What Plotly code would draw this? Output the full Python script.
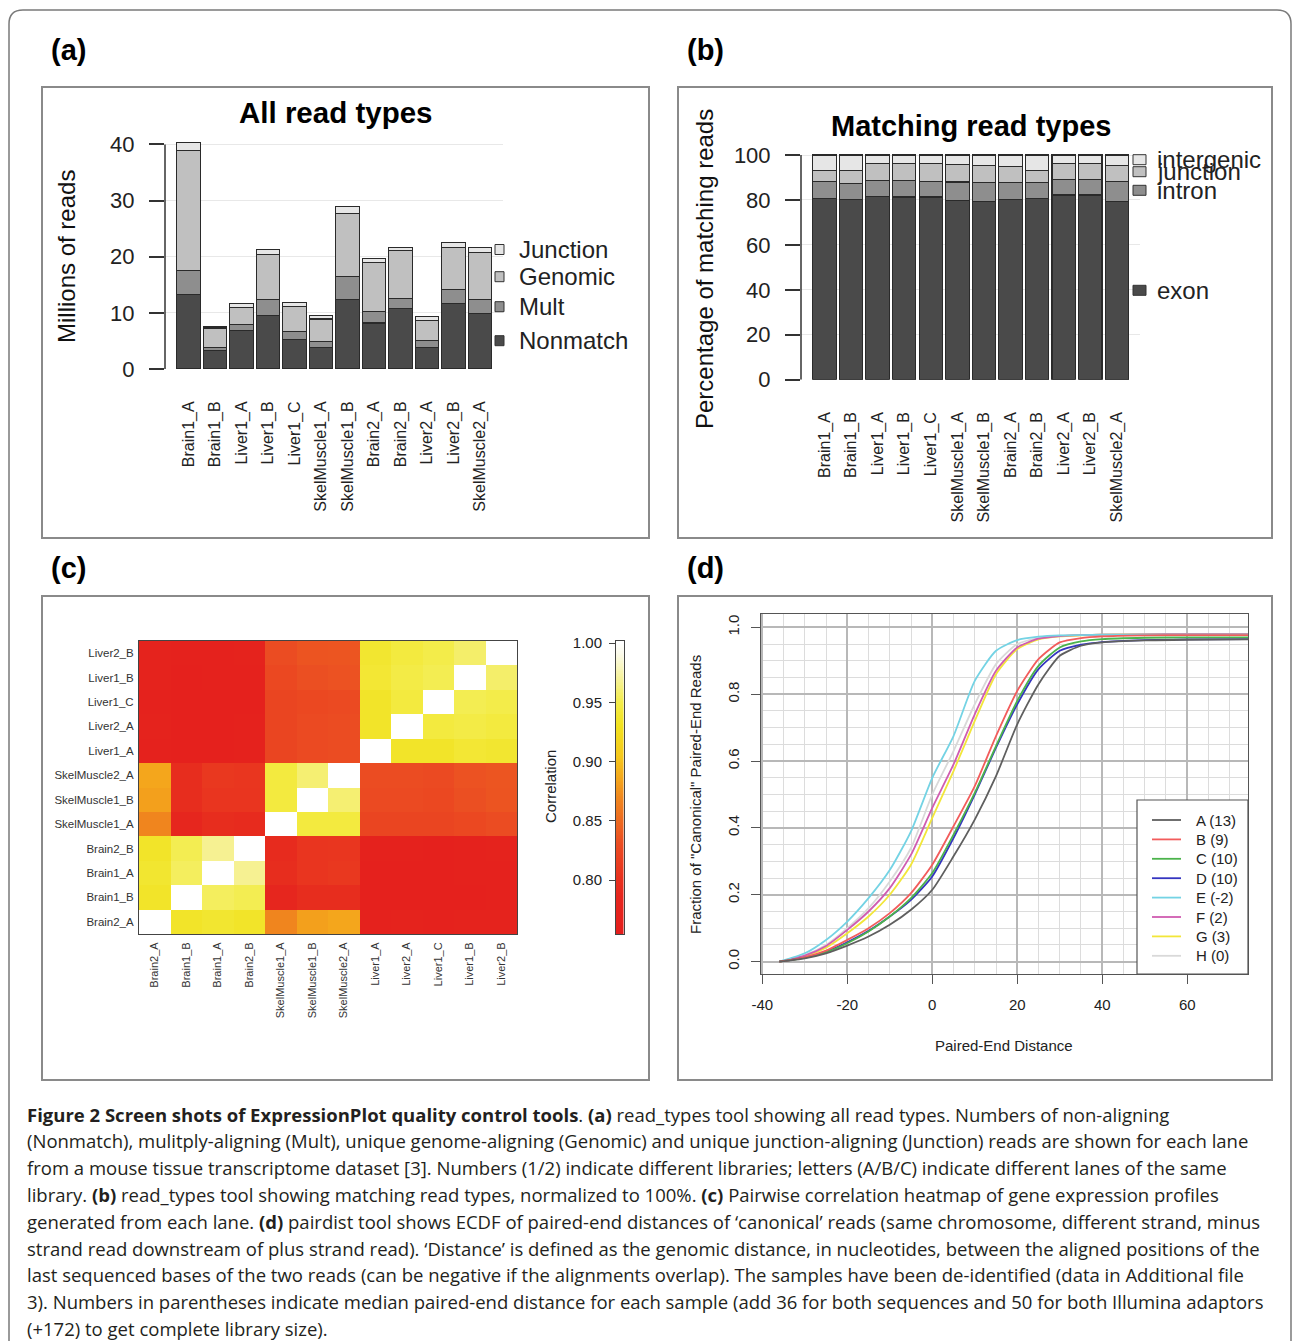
import plotly.graph_objects as go
import numpy as np

W, H = 1293, 1341
def fx(px): return px / W
def fy(py): return 1 - py / H

# ---------------- Panel (a): All read types (millions of reads, stacked) ----------------
lanes = ["Brain1_A", "Brain1_B", "Liver1_A", "Liver1_B", "Liver1_C", "SkelMuscle1_A",
         "SkelMuscle1_B", "Brain2_A", "Brain2_B", "Liver2_A", "Liver2_B", "SkelMuscle2_A"]
nonmatch = [13.2, 3.3, 6.8, 9.6, 5.2, 3.9, 12.4, 8.2, 10.8, 3.8, 11.7, 9.9]
mult     = [4.3, 0.6, 1.1, 2.8, 1.5, 1.0, 4.1, 2.1, 1.7, 1.2, 2.4, 2.4]
genomic  = [21.4, 3.4, 3.1, 8.0, 4.4, 4.0, 11.2, 8.6, 8.6, 3.6, 7.6, 8.5]
junction = [1.5, 0.3, 0.6, 0.9, 0.7, 0.6, 1.2, 0.7, 0.6, 0.8, 0.8, 0.9]
a_ticks = [0, 10, 20, 30, 40]

# ---------------- Panel (b): Matching read types (percent, stacked) ----------------
exon_pct       = [80.7, 80.3, 81.5, 81.3, 81.3, 79.7, 79.2, 80.3, 80.7, 82.2, 82.2, 79.2]
intron_pct     = [7.4, 7.1, 7.1, 7.3, 7.1, 8.3, 8.6, 7.5, 7.1, 6.7, 6.7, 8.9]
junction_pct   = [5.2, 5.6, 7.7, 7.7, 7.7, 7.8, 7.7, 7.0, 5.5, 7.4, 7.4, 7.4]
intergenic_pct = [6.7, 7.0, 3.7, 3.7, 3.9, 4.2, 4.5, 5.2, 6.7, 3.7, 3.7, 4.5]
b_ticks = [0, 20, 40, 60, 80, 100]

# ---------------- Panel (c): correlation heatmap ----------------
hm_labels = ["Brain2_A", "Brain1_B", "Brain1_A", "Brain2_B", "SkelMuscle1_A", "SkelMuscle1_B",
             "SkelMuscle2_A", "Liver1_A", "Liver2_A", "Liver1_C", "Liver1_B", "Liver2_B"]
corr = [
    [1.000, 0.935, 0.938, 0.935, 0.868, 0.882, 0.885, 0.770, 0.772, 0.770, 0.772, 0.775],
    [0.935, 1.000, 0.955, 0.952, 0.785, 0.795, 0.795, 0.765, 0.766, 0.765, 0.767, 0.768],
    [0.938, 0.955, 1.000, 0.968, 0.795, 0.805, 0.808, 0.766, 0.767, 0.766, 0.768, 0.770],
    [0.935, 0.952, 0.968, 1.000, 0.792, 0.805, 0.806, 0.768, 0.768, 0.767, 0.770, 0.772],
    [0.868, 0.785, 0.795, 0.792, 1.000, 0.945, 0.945, 0.822, 0.822, 0.822, 0.826, 0.830],
    [0.882, 0.795, 0.805, 0.805, 0.945, 1.000, 0.960, 0.828, 0.828, 0.826, 0.832, 0.835],
    [0.885, 0.795, 0.808, 0.806, 0.945, 0.960, 1.000, 0.830, 0.830, 0.828, 0.834, 0.836],
    [0.770, 0.765, 0.766, 0.768, 0.822, 0.828, 0.830, 1.000, 0.935, 0.935, 0.940, 0.938],
    [0.772, 0.766, 0.767, 0.768, 0.822, 0.828, 0.830, 0.935, 1.000, 0.945, 0.948, 0.945],
    [0.770, 0.765, 0.766, 0.767, 0.822, 0.826, 0.828, 0.935, 0.945, 1.000, 0.952, 0.950],
    [0.772, 0.767, 0.768, 0.770, 0.826, 0.832, 0.834, 0.940, 0.948, 0.952, 1.000, 0.958],
    [0.775, 0.768, 0.770, 0.772, 0.830, 0.835, 0.836, 0.938, 0.945, 0.950, 0.958, 1.000],
]
cb_ticks = [0.80, 0.85, 0.90, 0.95, 1.00]
ZMIN, ZMAX = 0.7545, 1.0

# ---------------- Panel (d): ECDF of paired-end distance ----------------
dist_x = [-36, -30, -25, -20, -15, -10, -5, 0, 5, 10, 15, 20, 25, 30, 35, 40, 50, 60, 75]
ecdf_A = [0, 0.010, 0.025, 0.048, 0.075, 0.110, 0.155, 0.215, 0.315, 0.425, 0.555, 0.710, 0.830, 0.915, 0.945, 0.955, 0.961, 0.963, 0.964]
ecdf_B = [0, 0.013, 0.033, 0.065, 0.100, 0.145, 0.205, 0.290, 0.405, 0.525, 0.675, 0.810, 0.905, 0.955, 0.968, 0.973, 0.976, 0.977, 0.977]
ecdf_C = [0, 0.011, 0.028, 0.055, 0.090, 0.135, 0.190, 0.265, 0.380, 0.505, 0.645, 0.780, 0.885, 0.940, 0.958, 0.965, 0.969, 0.970, 0.970]
ecdf_D = [0, 0.012, 0.030, 0.058, 0.092, 0.135, 0.185, 0.255, 0.370, 0.500, 0.640, 0.770, 0.875, 0.930, 0.948, 0.956, 0.962, 0.964, 0.965]
ecdf_E = [0, 0.025, 0.065, 0.120, 0.190, 0.274, 0.390, 0.550, 0.675, 0.840, 0.930, 0.962, 0.972, 0.976, 0.977, 0.978, 0.978, 0.978, 0.978]
ecdf_F = [0, 0.018, 0.047, 0.095, 0.150, 0.220, 0.320, 0.460, 0.590, 0.740, 0.870, 0.940, 0.966, 0.974, 0.977, 0.978, 0.979, 0.980, 0.980]
ecdf_G = [0, 0.016, 0.042, 0.085, 0.135, 0.200, 0.290, 0.430, 0.570, 0.720, 0.860, 0.935, 0.964, 0.973, 0.976, 0.978, 0.979, 0.980, 0.980]
ecdf_H = [0, 0.020, 0.050, 0.100, 0.160, 0.240, 0.340, 0.500, 0.630, 0.770, 0.890, 0.950, 0.968, 0.975, 0.977, 0.978, 0.979, 0.979, 0.979]
sample_names = ["A (13)", "B (9)", "C (10)", "D (10)", "E (-2)", "F (2)", "G (3)", "H (0)"]
sample_colors = ["#5f5f5f", "#f25c5c", "#4cb34c", "#3535c0", "#74d3e4", "#d05cb0", "#f2e63a", "#d9d9d9"]
d_xticks = [-40, -20, 0, 20, 40, 60]
d_yticks = [0.0, 0.2, 0.4, 0.6, 0.8, 1.0]

FONT = "Liberation Sans, Arial, sans-serif"
fig = go.Figure()

# ---- (a) bars
seg_a = [("Nonmatch", nonmatch, "#4a4a4a"), ("Mult", mult, "#8e8e8e"),
         ("Genomic", genomic, "#c0c0c0"), ("Junction", junction, "#e6e6e6")]
for name, vals, col in seg_a:
    fig.add_trace(go.Bar(x=lanes, y=vals, name=name, width=0.88,
                         marker=dict(color=col, line=dict(color="#2a2a2a", width=1.1)),
                         xaxis="x", yaxis="y", showlegend=False))

# ---- (b) bars
seg_b = [("exon", exon_pct, "#4a4a4a"), ("intron", intron_pct, "#8e8e8e"),
         ("junction", junction_pct, "#c0c0c0"), ("intergenic", intergenic_pct, "#e6e6e6")]
for name, vals, col in seg_b:
    fig.add_trace(go.Bar(x=lanes, y=vals, name=name, width=0.88,
                         marker=dict(color=col, line=dict(color="#2a2a2a", width=1.1)),
                         xaxis="x2", yaxis="y2", showlegend=False))

# ---- (c) heatmap
cs = [[0.0, "#e41e1c"], [0.124, "#e6261e"], [0.185, "#e8301e"], [0.307, "#eb4c22"],
      [0.47, "#f0881e"], [0.53, "#f4a51c"], [0.61, "#f5c81c"], [0.715, "#f2e21e"],
      [0.796, "#f3ec4a"], [0.878, "#f6f29a"], [0.96, "#fbfae8"], [1.0, "#ffffff"]]
fig.add_trace(go.Heatmap(z=corr, x=hm_labels, y=hm_labels, colorscale=cs, zmin=ZMIN, zmax=ZMAX,
                         showscale=False, xaxis="x3", yaxis="y3"))
# colour key strip
cb_vals = np.linspace(ZMIN, ZMAX, 200)
fig.add_trace(go.Heatmap(z=[[v] for v in cb_vals], x=[0], y=cb_vals, colorscale=cs, zmin=ZMIN, zmax=ZMAX,
                         showscale=False, xaxis="x4", yaxis="y4"))

# ---- (d) ECDF lines
curves = [ecdf_A, ecdf_B, ecdf_C, ecdf_D, ecdf_E, ecdf_F, ecdf_G, ecdf_H]
for i in [7, 6, 5, 4, 3, 2, 1, 0]:
    fig.add_trace(go.Scatter(x=dist_x, y=curves[i], mode="lines", name=sample_names[i],
                             line=dict(color=sample_colors[i], width=1.8, shape="spline", smoothing=0.6),
                             xaxis="x5", yaxis="y5", showlegend=False))

shapes = []
annotations = []

def ann(text, x, y, size, bold=False, xanchor="center", yanchor="middle", angle=0, color="#111", family=FONT):
    annotations.append(dict(text=("<b>%s</b>" % text) if bold else text, x=fx(x), y=fy(y), xref="paper", yref="paper",
                            showarrow=False, xanchor=xanchor, yanchor=yanchor, textangle=angle,
                            font=dict(size=size, color=color, family=family)))

# outer rounded frame
p = "M %f,%f L %f,%f Q %f,%f %f,%f L %f,%f Q %f,%f %f,%f L %f,%f" % (
    fx(9), fy(1350), fx(9), fy(24), fx(9), fy(10), fx(23), fy(10), fx(1277), fy(10),
    fx(1291), fy(10), fx(1291), fy(24), fx(1291), fy(1350))
shapes.append(dict(type="path", path=p, xref="paper", yref="paper", line=dict(color="#7a7a7a", width=1.5)))

# panel frames
for (x0, y0, x1, y1) in [(42, 87, 649, 538), (678, 87, 1272, 538), (42, 596, 649, 1080), (678, 596, 1272, 1080)]:
    shapes.append(dict(type="rect", xref="paper", yref="paper", x0=fx(x0), y0=fy(y0), x1=fx(x1), y1=fy(y1),
                       line=dict(color="#8a8a8a", width=2), layer="below"))

# panel letters
for lab, x, y in [("(a)", 49, 50), ("(b)", 685, 50), ("(c)", 49, 568), ("(d)", 685, 568)]:
    ann(lab, x, y, 29, bold=True, xanchor="left", color="#000")

# y-axis lines for the barplots
shapes.append(dict(type="line", xref="paper", yref="y", x0=fx(165), x1=fx(165), y0=0, y1=40,
                   line=dict(color="#333", width=1.5)))
shapes.append(dict(type="line", xref="paper", yref="y2", x0=fx(801), x1=fx(801), y0=0, y1=100,
                   line=dict(color="#333", width=1.5)))

# titles + axis titles (a), (b)
ann("All read types", 335, 113, 29.5, bold=True, color="#000")
ann("Matching read types", 971, 126, 29, bold=True, color="#000")
ann("Millions of reads", 67, 257, 24, angle=-90)
ann("Percentage of matching reads", 704, 269, 24, angle=-90)

# legend (a)
for name, col, yc in [("Junction", "#e6e6e6", 249.5), ("Genomic", "#c0c0c0", 276.7),
                      ("Mult", "#8e8e8e", 306.7), ("Nonmatch", "#4a4a4a", 340.7)]:
    shapes.append(dict(type="rect", xref="paper", yref="paper", x0=fx(495), x1=fx(504),
                       y0=fy(yc - 5), y1=fy(yc + 5), fillcolor=col, line=dict(color="#333", width=1)))
    ann(name, 517, yc, 24, xanchor="left", color="#222")
# legend (b)
for name, col, yc in [("intergenic", "#e6e6e6", 159.7), ("junction", "#c0c0c0", 171.7),
                      ("intron", "#8e8e8e", 190.3), ("exon", "#4a4a4a", 290.3)]:
    shapes.append(dict(type="rect", xref="paper", yref="paper", x0=fx(1133), x1=fx(1146),
                       y0=fy(yc - 5), y1=fy(yc + 5), fillcolor=col, line=dict(color="#333", width=1)))
    ann(name, 1155, yc, 24, xanchor="left", color="#222")

# (c) colour key title
ann("Correlation", 550, 787, 15, angle=-90, color="#222")

# (d) axis titles
ann("Paired-End Distance", 1004, 1045, 15, color="#222")
ann("Fraction of \"Canonical\" Paired-End Reads", 695, 795, 15, angle=-90, color="#222")

# (d) legend box
shapes.append(dict(type="rect", xref="paper", yref="paper", x0=fx(1137), x1=fx(1248), y0=fy(800), y1=fy(974),
                   fillcolor="white", line=dict(color="#555", width=1.2)))
for i, (name, col) in enumerate(zip(sample_names, sample_colors)):
    yc = 820 + i * 19.4
    shapes.append(dict(type="line", xref="paper", yref="paper", x0=fx(1152), x1=fx(1181), y0=fy(yc), y1=fy(yc),
                       line=dict(color=col, width=1.8)))
    ann(name, 1194, yc, 15, xanchor="left", color="#222")

# caption
cap = [
    "<b>Figure 2 Screen shots of ExpressionPlot quality control tools</b>. <b>(a)</b> read_types tool showing all read types. Numbers of non-aligning",
    "(Nonmatch), mulitply-aligning (Mult), unique genome-aligning (Genomic) and unique junction-aligning (Junction) reads are shown for each lane",
    "from a mouse tissue transcriptome dataset [3]. Numbers (1/2) indicate different libraries; letters (A/B/C) indicate different lanes of the same",
    "library. <b>(b)</b> read_types tool showing matching read types, normalized to 100%. <b>(c)</b> Pairwise correlation heatmap of gene expression profiles",
    "generated from each lane. <b>(d)</b> pairdist tool shows ECDF of paired-end distances of ‘canonical’ reads (same chromosome, different strand, minus",
    "strand read downstream of plus strand read). ‘Distance’ is defined as the genomic distance, in nucleotides, between the aligned positions of the",
    "last sequenced bases of the two reads (can be negative if the alignments overlap). The samples have been de-identified (data in Additional file",
    "3). Numbers in parentheses indicate median paired-end distance for each sample (add 36 for both sequences and 50 for both Illumina adaptors",
    "(+172) to get complete library size).",
]
for i, line in enumerate(cap):
    ann(line, 25, 1114 + i * 26.8, 18.5, xanchor="left", color="#231f20", family="Open Sans, sans-serif")

bar_x_common = dict(type="category", categoryorder="array", categoryarray=lanes, range=[-0.883, 11.87],
                    tickangle=-90, tickfont=dict(size=16, color="#222"), showgrid=False, showline=False,
                    zeroline=False, ticks="outside", ticklen=25, tickcolor="rgba(0,0,0,0)", automargin=False)

fig.update_layout(
    template="none",
    width=W, height=H, margin=dict(l=0, r=0, t=0, b=0, pad=0, autoexpand=False), autosize=False,
    paper_bgcolor="white", plot_bgcolor="rgba(0,0,0,0)",
    font=dict(family=FONT, color="#222"), barmode="stack", bargap=0.12,
    showlegend=False, shapes=shapes, annotations=annotations,
    xaxis=dict(domain=[fx(165), fx(503)], anchor="y", **bar_x_common),
    yaxis=dict(domain=[fy(369), fy(369 - 40.6 * 5.615)], anchor="x", range=[0, 40.6], tickvals=a_ticks,
               ticks="outside", ticklen=15, tickwidth=1.5, tickcolor="#333", showline=False,
               showgrid=True, gridcolor="#e8e8e8", gridwidth=1, zeroline=False, automargin=False,
               tickfont=dict(size=22, color="#222"), ticklabelstandoff=10),
    xaxis2=dict(domain=[fx(801), fx(1140)], anchor="y2", **bar_x_common),
    yaxis2=dict(domain=[fy(379.7), fy(379.7 - 101 * 2.247)], anchor="x2", range=[0, 101], tickvals=b_ticks,
                ticks="outside", ticklen=15, tickwidth=1.5, tickcolor="#333", showline=False,
                showgrid=True, gridcolor="#e8e8e8", gridwidth=1, zeroline=False, automargin=False,
                tickfont=dict(size=22, color="#222"), ticklabelstandoff=10),
    xaxis3=dict(domain=[fx(139), fx(517)], anchor="y3", type="category", categoryorder="array",
                categoryarray=hm_labels, tickangle=-90, tickfont=dict(size=11, color="#333"),
                showline=True, mirror=True, linecolor="#444", linewidth=1, showgrid=False, zeroline=False,
                ticks="outside", ticklen=3, tickcolor="rgba(0,0,0,0)", automargin=False),
    yaxis3=dict(domain=[fy(934), fy(641)], anchor="x3", type="category", categoryorder="array",
                categoryarray=hm_labels, tickfont=dict(size=11.5, color="#333"),
                showline=True, mirror=True, linecolor="#444", linewidth=1, showgrid=False, zeroline=False,
                ticks="outside", ticklen=2, tickcolor="rgba(0,0,0,0)", automargin=False),
    xaxis4=dict(domain=[fx(616), fx(623.5)], anchor="y4", showticklabels=False, showline=True, mirror=True,
                linecolor="#444", linewidth=1, showgrid=False, zeroline=False, ticks="", automargin=False),
    yaxis4=dict(domain=[fy(934), fy(641)], anchor="x4", range=[ZMIN, 1.0017], tickvals=cb_ticks,
                ticktext=["%.2f" % v for v in cb_ticks], ticks="outside", ticklen=6, tickcolor="#444",
                showline=True, mirror=True, linecolor="#444", linewidth=1, showgrid=False, zeroline=False,
                tickfont=dict(size=15, color="#222"), ticklabelstandoff=4, automargin=False),
    xaxis5=dict(domain=[fx(761), fx(1248)], anchor="y5", range=[-40.3, 74.3], tickvals=d_xticks,
                ticktext=[str(v) for v in d_xticks], ticks="outside", ticklen=9, tickcolor="#555",
                showline=True, mirror=True, linecolor="#555", linewidth=1.2, zeroline=False,
                showgrid=True, gridcolor="#b8b8b8", gridwidth=1.5, automargin=False,
                minor=dict(tickmode="linear", tick0=0, dtick=5, showgrid=True, gridcolor="#dcdcdc", gridwidth=1, ticks=""),
                tickfont=dict(size=15, color="#222"), ticklabelstandoff=8),
    yaxis5=dict(domain=[fy(974), fy(614)], anchor="x5", range=[-0.037, 1.04], tickvals=d_yticks,
                ticktext=["%.1f" % v for v in d_yticks], tickangle=-90, ticks="outside", ticklen=9,
                tickcolor="#555", showline=True, mirror=True, linecolor="#555", linewidth=1.2, zeroline=False,
                showgrid=True, gridcolor="#b8b8b8", gridwidth=1.5, automargin=False,
                minor=dict(tickmode="linear", tick0=0, dtick=0.05, showgrid=True, gridcolor="#dcdcdc", gridwidth=1, ticks=""),
                tickfont=dict(size=15, color="#222"), ticklabelstandoff=6),
)

fig.write_html("out.html", post_script="document.body.style.margin='0';document.body.style.padding='0';")
